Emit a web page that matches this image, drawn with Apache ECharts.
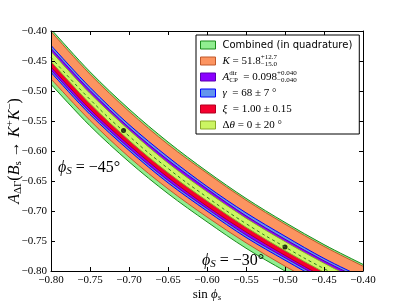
<!DOCTYPE html>
<html>
<head>
<meta charset="utf-8">
<script src="https://cdn.jsdelivr.net/npm/echarts@6/dist/echarts.min.js"></script>
<style>html,body{margin:0;padding:0;background:#fff}#c{width:403px;height:303px}</style>
</head>
<body>
<div id="c"></div>
<script>
// x positions (sin phi_s)
const sinPhi = [-0.80, -0.75, -0.70, -0.65, -0.60, -0.55, -0.50, -0.45, -0.40];
// central curve
const central = [-0.444, -0.514, -0.575, -0.629, -0.677, -0.721, -0.760, -0.796, -0.828];
// band boundaries (upper / lower)
const combinedUp = [-0.397, -0.468, -0.530, -0.585, -0.634, -0.679, -0.719, -0.756, -0.789];
const combinedLo = [-0.489, -0.558, -0.618, -0.671, -0.718, -0.762, -0.800, -0.835, -0.866];
const kUp = [-0.401, -0.472, -0.534, -0.589, -0.637, -0.682, -0.722, -0.759, -0.792];
const kLo = [-0.480, -0.549, -0.610, -0.663, -0.710, -0.753, -0.792, -0.827, -0.858];
const gammaUp = [-0.424, -0.494, -0.556, -0.610, -0.659, -0.703, -0.742, -0.779, -0.811];
const gammaLo = [-0.469, -0.539, -0.599, -0.653, -0.700, -0.744, -0.782, -0.818, -0.849];
const acpUp = [-0.429, -0.499, -0.561, -0.615, -0.663, -0.708, -0.747, -0.783, -0.815];
const acpLo = [-0.465, -0.535, -0.595, -0.649, -0.696, -0.740, -0.778, -0.814, -0.846];
const xiUp = [-0.439, -0.509, -0.570, -0.624, -0.672, -0.716, -0.756, -0.792, -0.824];
const xiLo = [-0.460, -0.530, -0.590, -0.644, -0.692, -0.735, -0.774, -0.810, -0.841];
const dthUp = [-0.434, -0.504, -0.565, -0.620, -0.668, -0.712, -0.751, -0.787, -0.820];
const dthLo = [-0.451, -0.521, -0.582, -0.636, -0.683, -0.727, -0.766, -0.802, -0.834];
// marked points (phi_s = -45 deg, -30 deg)
const dotX = [-0.707, -0.50];
const dotY = [-0.566, -0.760];
// ticks
const xTicks = [-0.80, -0.75, -0.70, -0.65, -0.60, -0.55, -0.50, -0.45, -0.40];
const yTicks = [-0.80, -0.75, -0.70, -0.65, -0.60, -0.55, -0.50, -0.45, -0.40];

const bands = [
  {name: 'comb', up: combinedUp, lo: combinedLo, fill: '#90EE90', edge: '#1a8a1a'},
  {name: 'K', up: kUp, lo: kLo, fill: '#FC9460', edge: '#c0582a'},
  {name: 'gamma', up: gammaUp, lo: gammaLo, fill: '#6495ED', edge: '#0000ff'},
  {name: 'acp', up: acpUp, lo: acpLo, fill: '#8A00FF', edge: '#5a00b0'},
  {name: 'xi', up: xiUp, lo: xiLo, fill: '#F5002E', edge: '#b00020'},
  {name: 'dth', up: dthUp, lo: dthLo, fill: '#CCF562', edge: '#8cab2a'}
];
const legendOrder = ['comb', 'K', 'acp', 'gamma', 'xi', 'dth'];

// Catmull-Rom -> cubic bezier path segments through pixel points
function curveCmds(pts, first) {
  let d = first ? 'M' + pts[0][0] + ' ' + pts[0][1] : 'L' + pts[0][0] + ' ' + pts[0][1];
  for (let i = 0; i < pts.length - 1; i++) {
    const p0 = pts[Math.max(0, i - 1)], p1 = pts[i], p2 = pts[i + 1], p3 = pts[Math.min(pts.length - 1, i + 2)];
    const c1 = [p1[0] + (p2[0] - p0[0]) / 6, p1[1] + (p2[1] - p0[1]) / 6];
    const c2 = [p2[0] - (p3[0] - p1[0]) / 6, p2[1] - (p3[1] - p1[1]) / 6];
    d += 'C' + c1[0] + ' ' + c1[1] + ' ' + c2[0] + ' ' + c2[1] + ' ' + p2[0] + ' ' + p2[1];
  }
  return d;
}

function bandRender(b) {
  return function (params, api) {
    if (params.dataIndexInside !== 0) return null;
    const n = params.dataInsideLength;
    const up = [], lo = [];
    for (let i = 0; i < n; i++) {
      const x = api.value(0, i);
      up.push(api.coord([x, api.value(1, i)]));
      lo.push(api.coord([x, api.value(2, i)]));
    }
    const fillPath = curveCmds(up, true) + curveCmds(lo.slice().reverse(), false) + 'Z';
    return {
      type: 'group',
      children: [
        {type: 'path', shape: {pathData: fillPath}, style: {fill: b.fill, stroke: null}},
        {type: 'path', shape: {pathData: curveCmds(up, true)}, style: {fill: null, stroke: b.edge, lineWidth: 1}},
        {type: 'path', shape: {pathData: curveCmds(lo, true)}, style: {fill: null, stroke: b.edge, lineWidth: 1}}
      ]
    };
  };
}

const series = [];
bands.forEach(b => {
  series.push({
    name: b.name, type: 'custom', clip: true, silent: true,
    itemStyle: {color: b.fill},
    renderItem: bandRender(b),
    encode: {x: 0, y: 1},
    data: sinPhi.map((x, i) => [x, b.up[i], b.lo[i]])
  });
});
series.push({
  name: 'central', type: 'line', smooth: true, symbol: 'none', silent: true,
  data: sinPhi.map((x, i) => [x, central[i]]),
  lineStyle: {color: '#2e7d1e', width: 1, type: [3, 3]}
});
series.push({
  name: 'dots', type: 'scatter', symbolSize: 5, silent: true,
  data: dotX.map((x, i) => [x, dotY[i]]),
  itemStyle: {color: '#000'}
});

const fmt = v => v.toFixed(2).replace('-', '\u2212');
const serif = 'Liberation Serif';

const legendLabels = {
  comb: '{sans|Combined (in quadrature)}',
  K: '{i|K}{n| = 51.8}{sup|+12.7}{sub|\u221215.0}',
  acp: '{a|A}{sup|dir}{sub|CP}{n|  = 0.098}{sup|+0.040}{sub|\u22120.040}',
  gamma: '{i|\u03b3}{n|  = 68 \u00b1 7 \u00b0}',
  xi: '{i|\u03be}{n|  = 1.00 \u00b1 0.15}',
  dth: '{n|\u0394}{i|\u03b8}{n| = 0 \u00b1 20 \u00b0}'
};

const axisCommon = {
  type: 'value', min: -0.80, max: -0.40, interval: 0.05,
  axisLine: {show: true, onZero: false, lineStyle: {color: '#000', width: 1}},
  axisTick: {show: true, inside: true, length: 4, lineStyle: {color: '#000'}},
  splitLine: {show: false}
};

const subRich = (size, subSize, pad) => ({
  i: {fontFamily: serif, fontStyle: 'italic', fontSize: size, fill: '#000', color: '#000'},
  n: {fontFamily: serif, fontSize: size, fill: '#000', color: '#000'},
  s: {fontFamily: serif, fontStyle: 'italic', fontSize: subSize, fill: '#000', color: '#000', verticalAlign: 'bottom', padding: [pad, 0, 0, 0]}
});

const option = {
  animation: false,
  grid: {left: 51, right: 40, top: 31, bottom: 32, containLabel: false, outerBoundsMode: 'none'},
  xAxis: [
    Object.assign({}, axisCommon, {
      position: 'bottom', z: 10,
      axisLabel: {color: '#000', fontFamily: serif, fontSize: 11, margin: 4,
        formatter: v => fmt(v), customValues: xTicks},
      name: '{n|sin }{i|\u03d5}{s|s}',
      nameLocation: 'middle', nameGap: 16, nameMoveOverlap: false,
      nameTextStyle: {rich: subRich(13, 9, 6)}
    }),
    Object.assign({}, axisCommon, {position: 'top', z: 10, axisLabel: {show: false}})
  ],
  yAxis: [
    Object.assign({}, axisCommon, {
      position: 'left', z: 10,
      axisLabel: {color: '#000', fontFamily: serif, fontSize: 11, margin: 4,
        formatter: v => fmt(v), customValues: yTicks},
      name: '{a|A}{s|\u0394\u0393}{n|(}{i|B}{s|s}{n| \u2192 }{i|K}{p|+}{i|K}{p|\u2212}{n|)}',
      nameLocation: 'middle', nameGap: 27, nameRotate: 90, nameMoveOverlap: false,
      nameTextStyle: {rich: {
        n: {fontFamily: serif, fontSize: 16, color: '#000'},
        a: {fontFamily: serif, fontStyle: 'italic', fontSize: 16, color: '#000'},
        i: {fontFamily: serif, fontStyle: 'italic', fontSize: 16, color: '#000'},
        s: {fontFamily: serif, fontSize: 11, color: '#000', verticalAlign: 'bottom', padding: [8, 0, 0, 0]},
        p: {fontFamily: serif, fontSize: 11, color: '#000', verticalAlign: 'top', padding: [0, 0, 7, 0]}
      }}
    }),
    Object.assign({}, axisCommon, {position: 'right', z: 10, axisLabel: {show: false}})
  ],
  legend: {
    orient: 'vertical', left: 196, top: 35, z: 50,
    padding: [3, 7, 2, 4], itemGap: 2, itemWidth: 15, itemHeight: 8,
    borderColor: '#000', borderWidth: 1, backgroundColor: '#fff',
    data: legendOrder.map(n => {
      const b = bands.find(x => x.name === n);
      return {name: n, icon: 'rect', itemStyle: {color: b.fill, borderColor: b.edge, borderWidth: 1}};
    }),
    formatter: n => legendLabels[n],
    textStyle: {
      color: '#000', fontSize: 11, lineHeight: 14, padding: [0, 0, 0, 2],
      rich: {
        sans: {fontFamily: 'DejaVu Sans', fontSize: 10, color: '#000'},
        n: {fontFamily: serif, fontSize: 11, color: '#000'},
        i: {fontFamily: serif, fontStyle: 'italic', fontSize: 11, color: '#000'},
        a: {fontFamily: serif, fontStyle: 'italic', fontSize: 11, color: '#000'},
        sup: {fontFamily: serif, fontSize: 7, color: '#000', verticalAlign: 'top', lineHeight: 7, width: 0},
        sub: {fontFamily: serif, fontSize: 7, color: '#000', verticalAlign: 'bottom', lineHeight: 7}
      }
    }
  },
  graphic: [
    {type: 'text', left: 58, top: 160, z: 100, style: {
      text: '{i|\u03d5}{s|S}{n| = \u221245\u00b0}', rich: subRich(16, 11, 7)}},
    {type: 'text', left: 202, top: 253, z: 100, style: {
      text: '{i|\u03d5}{s|S}{n| = \u221230\u00b0}', rich: subRich(16, 11, 7)}}
  ],
  series: series
};

const chart = echarts.init(document.getElementById('c'), null, {renderer: 'canvas'});
chart.setOption(option);
</script>
</body>
</html>
